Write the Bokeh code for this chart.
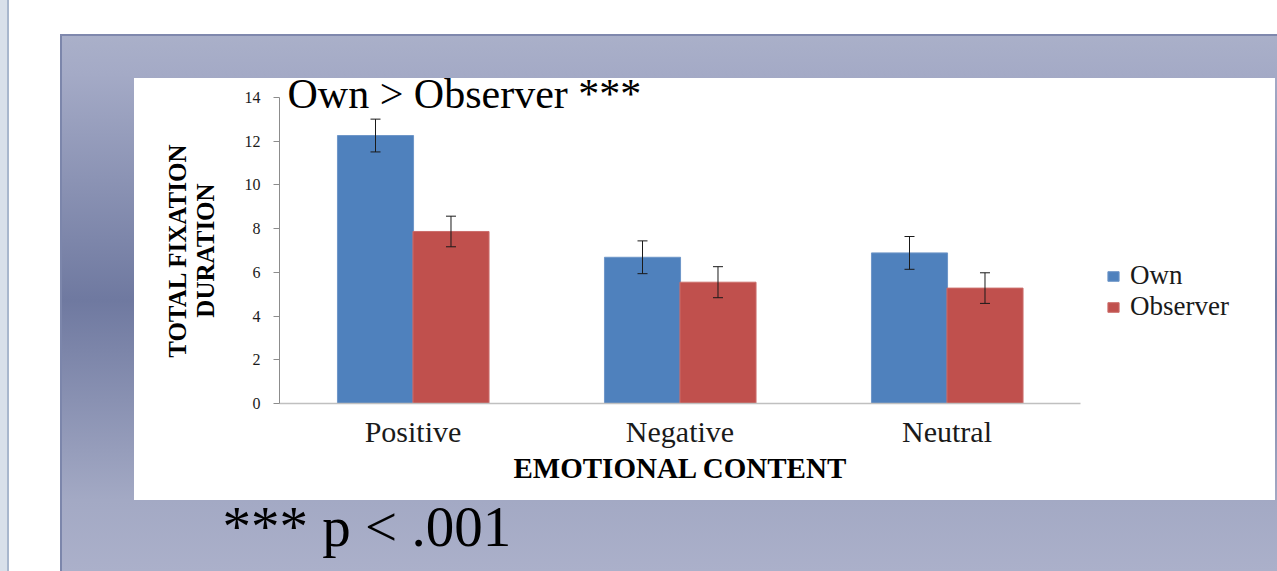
from bokeh.plotting import figure
from bokeh.models import (ColumnDataSource, Range1d, Whisker,
                          Legend, LegendItem, FixedTicker, Title)
from bokeh.transform import dodge
from bokeh.embed import file_html
from bokeh.resources import INLINE

# ---- data ----
categories = ["Positive", "Negative", "Neutral"]
series = ["Own", "Observer"]
own = [12.26, 6.69, 6.89]
own_err = [0.75, 0.75, 0.75]
observer = [7.87, 5.55, 5.28]
observer_err = [0.70, 0.71, 0.70]
y_ticks = [0, 2, 4, 6, 8, 10, 12, 14]
title_text = "Own > Observer ***"
note_text = "*** p < .001"
x_title = "EMOTIONAL CONTENT"
y_title = "TOTAL FIXATION\nDURATION"

# category slots on a numeric scale (one unit per category, label at its centre)
slot = [i + 0.5 for i in range(len(categories))]

src = ColumnDataSource(dict(
    cat=categories, xc=slot,
    own=own, observer=observer,
    own_hi=[v + e for v, e in zip(own, own_err)],
    own_lo=[v - e for v, e in zip(own, own_err)],
    obs_hi=[v + e for v, e in zip(observer, observer_err)],
    obs_lo=[v - e for v, e in zip(observer, observer_err)],
))

FONT = "Liberation Serif"
W, H = 1277, 571
FRAME_TOP = 97
FRAME_LEFT, AXIS_RIGHT, FRAME_RIGHT = 279, 1080, 1275
X_END = len(categories) * (FRAME_RIGHT - FRAME_LEFT) / (AXIS_RIGHT - FRAME_LEFT)

bg = ", ".join([
    "linear-gradient(#ffffff,#ffffff) 134px 78px / 1141px 422px no-repeat",
    "linear-gradient(#7f88ad,#7f88ad) 60px 34px / 1400px 2px no-repeat",
    "linear-gradient(#7c86ab,#7c86ab) 60px 34px / 2px 700px no-repeat",
    "linear-gradient(#a8b7cd,#a8b7cd) 7px 0px / 2px 700px no-repeat",
    "linear-gradient(#d8e0ea,#d8e0ea) 0px 0px / 7px 700px no-repeat",
    "linear-gradient(to bottom, #aab0c9 0px, #a4aac6 40px, #6f79a0 266px, #a3a9c4 466px, #abb0ca 537px) 60px 34px / 1400px 700px no-repeat",
    "#ffffff",
])

p = figure(width=W, height=H,
           x_range=Range1d(0, X_END),
           y_range=Range1d(0, 14),
           output_backend="svg", toolbar_location=None,
           min_border_left=FRAME_LEFT, min_border_right=W - FRAME_RIGHT,
           min_border_top=FRAME_TOP, min_border_bottom=168,
           background_fill_color=None, border_fill_color=None,
           outline_line_color=None,
           styles={"background": bg})
p.title = None

r_own = p.vbar(x=dodge("xc", -0.1404), top="own", width=0.285,
               source=src, fill_color="#4f81bd", line_color="#6e96c8", line_width=1)
r_obs = p.vbar(x=dodge("xc", 0.1423), top="observer", width=0.285,
               source=src, fill_color="#c0504d", line_color="#cc6e6b", line_width=1)

for base_off, hi, lo in [(-0.1404, "own_hi", "own_lo"), (0.1423, "obs_hi", "obs_lo")]:
    w = Whisker(base=dodge("xc", base_off), upper=hi, lower=lo,
                source=src, line_color="#1a1a1a", line_width=1, level="annotation")
    w.upper_head.size = 10
    w.lower_head.size = 10
    w.upper_head.line_color = "#1a1a1a"
    w.lower_head.line_color = "#1a1a1a"
    p.add_layout(w)

# axes
p.grid.visible = False
p.yaxis.ticker = FixedTicker(ticks=y_ticks)
p.yaxis.axis_label = y_title
p.yaxis.axis_label_text_font = FONT
p.yaxis.axis_label_text_font_style = "bold"
p.yaxis.axis_label_text_font_size = "25px"
p.yaxis.axis_label_text_color = "black"
p.yaxis.axis_label_text_line_height = 1.03
p.yaxis.axis_label_standoff = 23
p.yaxis.major_label_text_font = FONT
p.yaxis.major_label_text_font_size = "16px"
p.yaxis.major_label_text_color = "#1a1a1a"
p.yaxis.major_label_standoff = 13
p.yaxis.axis_line_color = "#8c8c8c"
p.yaxis.major_tick_line_color = "#8c8c8c"
p.yaxis.major_tick_out = 6
p.yaxis.major_tick_in = 0
p.yaxis.minor_tick_line_color = None

p.xaxis.ticker = FixedTicker(ticks=slot, minor_ticks=[])
p.xaxis.major_label_overrides = {s: c for s, c in zip(slot, categories)}
p.xaxis.bounds = (0, len(categories))
p.xaxis.major_label_text_font = FONT
p.xaxis.major_label_text_font_size = "30px"
p.xaxis.major_label_text_color = "#1a1a1a"
p.xaxis.major_label_standoff = 11
p.xaxis.axis_line_color = "#c0c0c0"
p.xaxis.axis_line_width = 1.5
p.xaxis.major_tick_line_color = None
p.xaxis.minor_tick_line_color = None
p.xaxis.major_tick_out = 0
p.xaxis.major_tick_in = 0

# x-axis title centred under the three categories (not the wider frame)
p.add_layout(Title(text=x_title, align="left", offset=234, standoff=-2,
                   text_font=FONT, text_font_size="29px", text_font_style="bold",
                   text_color="black"), "below")

# headline text, dipping slightly into the plot area
p.add_layout(Title(text=title_text, align="left", offset=8, standoff=-38,
                   vertical_align="bottom",
                   text_font=FONT, text_font_size="42px", text_font_style="normal",
                   text_color="black"), "above")

legend = Legend(items=[LegendItem(label=series[0], renderers=[r_own]),
                       LegendItem(label=series[1], renderers=[r_obs])],
                location=(1106 - FRAME_LEFT, 403 - 322), orientation="vertical",
                background_fill_alpha=0, border_line_color=None,
                padding=0, margin=0, spacing=0,
                glyph_width=14, glyph_height=12, label_height=30,
                label_standoff=10,
                label_text_font=FONT, label_text_font_size="27px",
                label_text_color="#1a1a1a")
p.add_layout(legend)

note = Title(text=note_text, align="left", offset=-57, standoff=20,
             text_font=FONT, text_font_size="57px", text_font_style="normal",
             text_color="black")
p.add_layout(note, "below")

open("out.html", "w").write(file_html(p, INLINE))
